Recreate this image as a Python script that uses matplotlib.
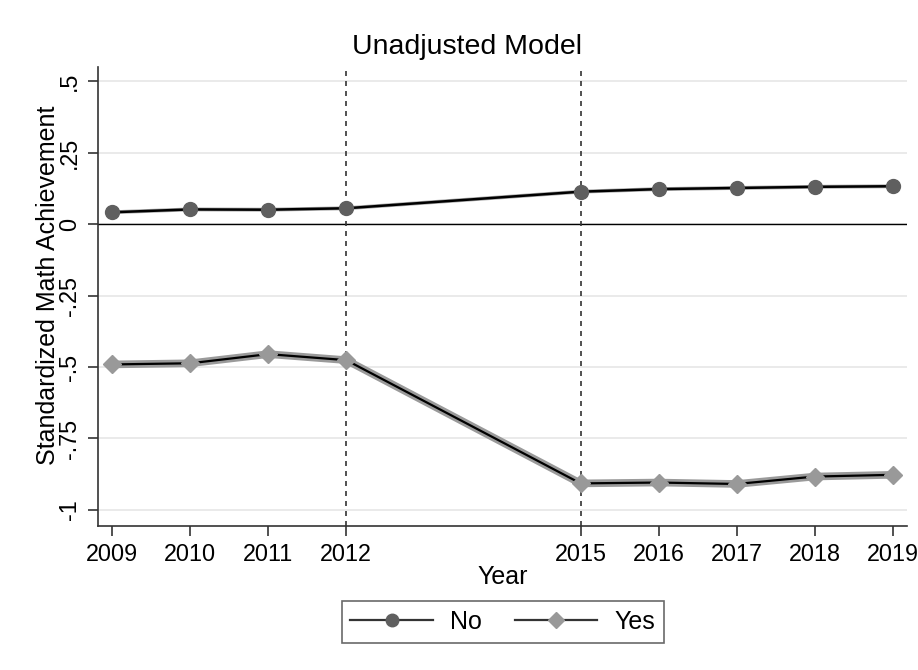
import numpy as np
import matplotlib.pyplot as plt
from matplotlib.lines import Line2D

plt.rcParams['font.family'] = ['Liberation Sans', 'DejaVu Sans']

years = [2009, 2010, 2011, 2012, 2015, 2016, 2017, 2018, 2019]
no_vals = [0.041, 0.051, 0.050, 0.055, 0.113, 0.122, 0.126, 0.130, 0.132]
yes_vals = [-0.491, -0.487, -0.455, -0.476, -0.907, -0.904, -0.909, -0.883, -0.877]
yticks = [0.5, 0.25, 0, -0.25, -0.5, -0.75, -1]
ytick_labels = [".5", ".25", "0", "-.25", "-.5", "-.75", "-1"]
policy_years = [2012, 2015]

fs = 18
tick_fs = 16.8

fig = plt.figure(figsize=(9.18, 6.7), dpi=100)
ax = fig.add_axes([98 / 918, 1 - 526 / 670, (907 - 98) / 918, (526 - 67) / 670])

for yt in yticks:
    ax.axhline(yt, color='#e6e6e6', lw=1.2, zorder=0)
ax.axhline(0, color='black', lw=1.0, zorder=1)
for py in policy_years:
    ax.axvline(py, color='#333333', lw=1.2, ls=(0, (3, 3)), zorder=1)

# soft grey edge under each line, then the black line with markers
ax.plot(years, no_vals, color='#aaaaaa', lw=2.8, zorder=2)
ax.plot(years, no_vals, color='black', lw=1.8, marker='o', ms=10,
        mfc='#5f5f5f', mec='#5f5f5f', zorder=3)
ax.plot(years, yes_vals, color='#9a9a9a', lw=5.5, zorder=2)
ax.plot(years, yes_vals, color='black', lw=1.6, marker='D', ms=9,
        mfc='#999999', mec='#999999', zorder=3)

ax.set_xlim(2009 - 14 / 78.1, 2019 + 14 / 78.1)
ax.set_ylim(-(526 - 224) / 286, (224 - 67) / 286)
ax.set_xticks(years)
ax.set_xticklabels([str(y) for y in years], fontsize=tick_fs)
ax.set_yticks(yticks)
ax.set_yticklabels(ytick_labels, fontsize=tick_fs, rotation=90, va='center')
ax.tick_params(length=7, width=1.2, color='#333333', pad=5)

for side in ['top', 'right']:
    ax.spines[side].set_visible(False)
for side in ['left', 'bottom']:
    ax.spines[side].set_color('#333333')
    ax.spines[side].set_linewidth(1.2)

ax.set_xlabel('Year', fontsize=fs)
ax.set_ylabel('Standardized Math Achievement', fontsize=fs)
ax.xaxis.set_label_coords((503 - 98) / 809, -(565 - 526) / 459)
ax.yaxis.set_label_coords(-(98 - 60) / 809, (526 - 285) / 459)
fig.text(467 / 918, 1 - 47 / 670, 'Unadjusted Model', fontsize=20.5,
         ha='center', va='center')

handles = [
    Line2D([], [], color='#333333', lw=1.6, marker='o', ms=9,
           mfc='#5f5f5f', mec='#5f5f5f'),
    Line2D([], [], color='#333333', lw=1.6, marker='D', ms=8,
           mfc='#999999', mec='#999999'),
]
leg = fig.legend(handles, ['No', 'Yes'], loc='center',
                 bbox_to_anchor=(503 / 918, 1 - 622 / 670),
                 ncol=2, fontsize=fs, fancybox=False, edgecolor='#444444',
                 handlelength=3.3, columnspacing=1.3,
                 borderpad=0.35, handletextpad=0.7)
leg.get_frame().set_linewidth(1.2)

fig.savefig('out.png', dpi=100, facecolor='white')
